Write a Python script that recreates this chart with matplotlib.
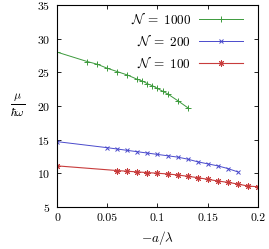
import matplotlib
matplotlib.use('Agg')
import matplotlib.pyplot as plt

plt.rcParams['font.family'] = 'serif'
plt.rcParams['font.serif'] = ['cmr10']
plt.rcParams['mathtext.fontset'] = 'cm'
plt.rcParams['axes.formatter.use_mathtext'] = True

# N = 1000
x_1000 = [0, 0.03, 0.04, 0.05, 0.06, 0.07, 0.08, 0.085, 0.09, 0.095, 0.1, 0.105, 0.11, 0.12, 0.13]
y_1000 = [28.0, 26.6, 26.2, 25.6, 25.1, 24.6, 23.95, 23.7, 23.3, 23.0, 22.6, 22.2, 21.8, 20.8, 19.75]

# N = 200
x_200 = [0, 0.05, 0.06, 0.07, 0.08, 0.09, 0.1, 0.11, 0.12, 0.13, 0.14, 0.15, 0.16, 0.17, 0.18]
y_200 = [14.7, 13.8, 13.6, 13.4, 13.2, 13.0, 12.8, 12.6, 12.4, 12.1, 11.7, 11.4, 11.1, 10.7, 10.2]

# N = 100
x_100 = [0, 0.06, 0.07, 0.08, 0.09, 0.1, 0.11, 0.12, 0.13, 0.14, 0.15, 0.16, 0.17, 0.18, 0.19, 0.2]
y_100 = [11.1, 10.4, 10.3, 10.2, 10.1, 10.0, 9.9, 9.75, 9.55, 9.35, 9.1, 8.85, 8.65, 8.4, 8.1, 8.0]

xticks = [0, 0.05, 0.1, 0.15, 0.2]
xtick_labels = ['0', '0.05', '0.1', '0.15', '0.2']
yticks = [5, 10, 15, 20, 25, 30, 35]

fig = plt.figure(figsize=(2.69, 2.49), dpi=100)
ax = fig.add_axes([0.212, 0.169, 0.747, 0.811])

ax.plot(x_1000, y_1000, color='#3c9a3c', lw=0.7, marker='+', ms=4.5, mew=0.7,
        label=r'$\mathcal{N}\;=\;1000$')
ax.plot(x_200, y_200, color='#4a4acc', lw=0.7, marker='x', ms=3.5, mew=0.7,
        label=r'$\mathcal{N}\;=\;200$')
ax.plot(x_100, y_100, color='#c83c3c', lw=0.8, marker=(8, 2, 0), ms=4.5, mew=0.7,
        label=r'$\mathcal{N}\;=\;100$')

ax.set_xlim(0, 0.2)
ax.set_ylim(5, 35)
ax.set_xticks(xticks)
ax.set_xticklabels(xtick_labels)
ax.set_yticks(yticks)
ax.tick_params(direction='in', top=True, right=True, labelsize=8.5, length=3, width=0.6, pad=5)
for s in ax.spines.values():
    s.set_linewidth(0.8)

ax.set_xlabel(r'$-a/\lambda$', fontsize=9.5, labelpad=4)
ax.set_ylabel(r'$\frac{\mu}{\hbar\omega}$', fontsize=12, rotation=0, labelpad=14, va='center')

ax.legend(loc='upper right', bbox_to_anchor=(0.96, 1.007), frameon=False, markerfirst=False,
          fontsize=9.5, handlelength=3.3, handletextpad=0.6, labelspacing=0.5,
          borderaxespad=0.35, borderpad=0.2)

fig.savefig('out.png', dpi=100)
